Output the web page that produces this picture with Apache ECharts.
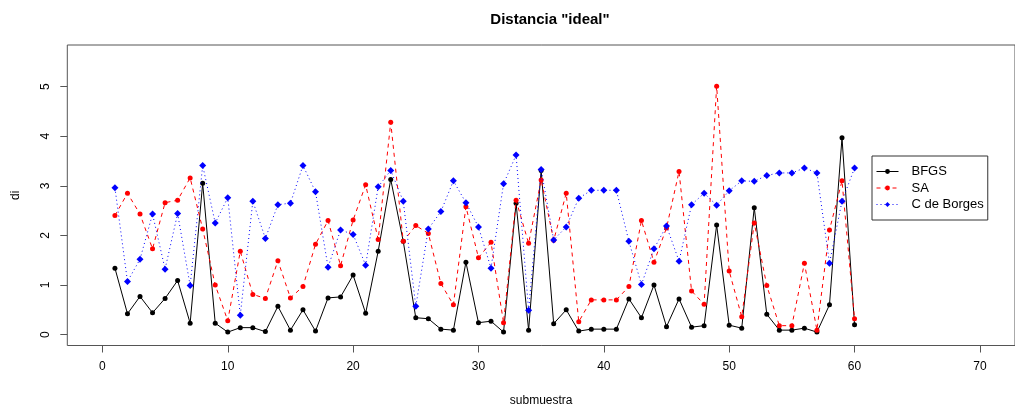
<!DOCTYPE html>
<html>
<head>
<meta charset="utf-8">
<script src="https://cdn.jsdelivr.net/npm/echarts@6/dist/echarts.min.js"></script>
<style>
html,body{margin:0;padding:0;background:#fff;}
#chart{width:1015px;height:413px;}
</style>
</head>
<body>
<div id="chart"></div>
<script>
const submuestra = [1,2,3,4,5,6,7,8,9,10,11,12,13,14,15,16,17,18,19,20,21,22,23,24,25,26,27,28,29,30,31,32,33,34,35,36,37,38,39,40,41,42,43,44,45,46,47,48,49,50,51,52,53,54,55,56,57,58,59,60];
const bfgs = [1.34,0.42,0.77,0.44,0.73,1.09,0.23,3.05,0.23,0.05, 0.14,0.14,0.06,0.57,0.09,0.50,0.07,0.74,0.76,1.20, 0.43,1.68,3.13,1.88,0.34,0.32,0.11,0.09,1.46,0.24, 0.27,0.05,2.65,0.09,3.31,0.22,0.50,0.07,0.11,0.11, 0.11,0.72,0.34,1.00,0.16,0.72,0.15,0.18,2.21,0.19, 0.13,2.56,0.41,0.09,0.09,0.13,0.05,0.60,3.97,0.20];
const sa = [2.40,2.85,2.43,1.73,2.66,2.71,3.16,2.13,1.00,0.28, 1.68,0.81,0.73,1.49,0.74,0.97,1.82,2.30,1.39,2.31, 3.02,1.92,4.28,1.88,2.20,2.04,1.03,0.60,2.58,1.55, 1.86,0.24,2.71,1.84,3.12,1.90,2.85,0.26,0.70,0.70, 0.70,0.97,2.30,1.46,2.15,3.29,0.88,0.61,5.01,1.28, 0.36,2.25,0.99,0.18,0.18,1.44,0.09,2.11,3.10,0.32];
const borges = [2.96,1.07,1.52,2.43,1.32,2.44,0.99,3.41,2.25,2.76, 0.39,2.69,1.94,2.62,2.65,3.41,2.88,1.36,2.11,2.02, 1.40,2.98,3.31,2.69,0.57,2.13,2.48,3.10,2.66,2.17, 1.34,3.04,3.62,0.49,3.33,1.91,2.17,2.75,2.91,2.91, 2.91,1.88,1.01,1.73,2.19,1.48,2.62,2.85,2.61,2.90, 3.10,3.09,3.21,3.26,3.26,3.36,3.26,1.44,2.69,3.36];
const xTicks = [0,10,20,30,40,50,60,70];
const yTicks = [0,1,2,3,4,5];
const seriesNames = ['BFGS','SA','C de Borges'];

const pair = arr => submuestra.map((x,i)=>[x,arr[i]]);
const FONT = '"Liberation Sans", Arial, sans-serif';

const chart = echarts.init(document.getElementById('chart'), null, {renderer:'canvas'});
chart.setOption({
  animation:false,
  backgroundColor:'#fff',
  title:{
    text:'Distancia "ideal"',
    left:545, textAlign:'center', top:7,
    textStyle:{fontFamily:FONT, fontSize:15, fontWeight:'bold', color:'#000'}
  },
  grid:{left:67.3, top:45, width:954.7, height:300.5, show:true, borderColor:'#555', borderWidth:1, backgroundColor:'transparent'},
  xAxis:{
    type:'value', min:-2.8, max:72.8,
    name:'submuestra', nameLocation:'middle', nameGap:49,
    nameTextStyle:{fontFamily:FONT, fontSize:12, color:'#000'},
    axisLine:{show:false, onZero:false},
    axisTick:{show:true, length:7, customValues:xTicks, lineStyle:{color:'#555'}},
    axisLabel:{customValues:xTicks, margin:15, fontFamily:FONT, fontSize:12, color:'#000'},
    splitLine:{show:false}
  },
  yAxis:{
    type:'value', min:-0.22, max:5.84,
    name:'di', nameLocation:'middle', nameGap:46,
    nameTextStyle:{fontFamily:FONT, fontSize:12, color:'#000'},
    axisLine:{show:false, onZero:false},
    axisTick:{show:true, length:7, customValues:yTicks, lineStyle:{color:'#555'}},
    axisLabel:{customValues:yTicks, rotate:90, margin:16, fontFamily:FONT, fontSize:12, color:'#000'},
    splitLine:{show:false}
  },
  legend:{
    orient:'vertical', left:872, top:156,
    padding:[9,4,9,4], itemGap:3.5, itemWidth:22, itemHeight:6,
    borderColor:'#333', borderWidth:1, backgroundColor:'#fff',
    lineStyle:{width:1},
    textStyle:{fontFamily:FONT, fontSize:13, color:'#000', lineHeight:12, padding:[0,0,0,8]},
    data:seriesNames
  },
  series:[
    {name:seriesNames[0], type:'line', data:pair(bfgs), symbol:'circle', symbolSize:5,
     itemStyle:{color:'#000'}, lineStyle:{color:'#000', width:1, type:'solid'}, z:2},
    {name:seriesNames[1], type:'line', data:pair(sa), symbol:'circle', symbolSize:5,
     itemStyle:{color:'#ff0000'}, lineStyle:{color:'#ff0000', width:1, type:[4,4]}, z:3},
    {name:seriesNames[2], type:'line', data:pair(borges), symbol:'diamond', symbolSize:7,
     itemStyle:{color:'#0000ff'}, lineStyle:{color:'#0000ff', width:1, type:[1,3]}, z:4}
  ]
});
</script>
</body>
</html>
